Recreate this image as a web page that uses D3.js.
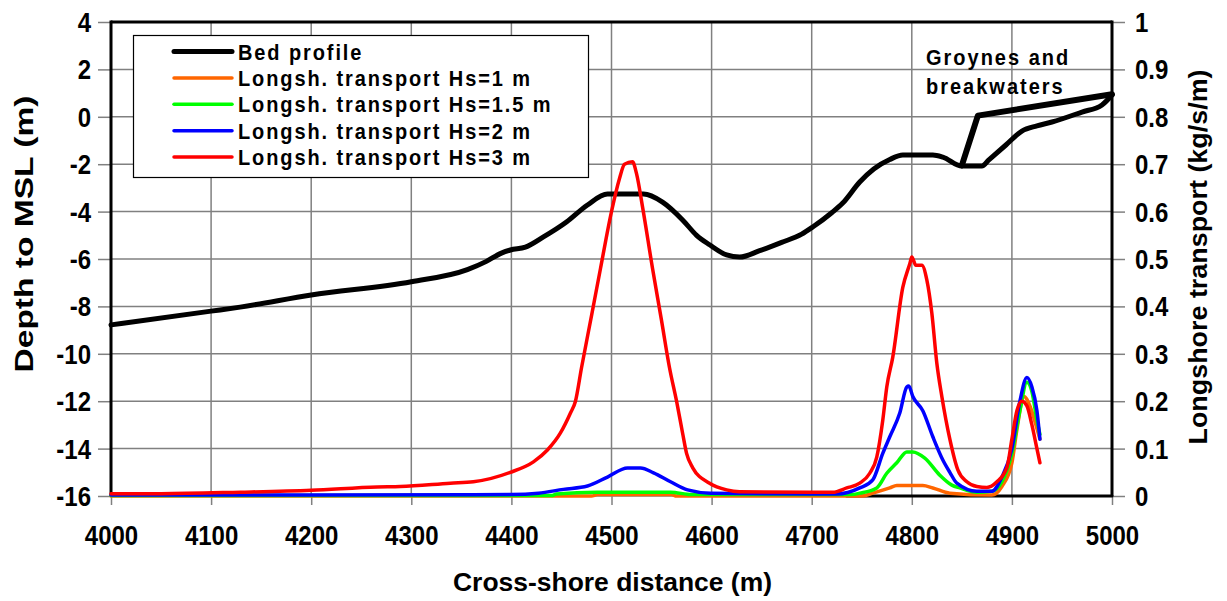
<!DOCTYPE html>
<html><head><meta charset="utf-8">
<script src="https://cdn.jsdelivr.net/npm/d3@7"></script>
<style>
html,body{margin:0;padding:0;background:#fff;}
svg{display:block;font-family:"Liberation Sans",Arial,sans-serif;font-weight:bold;}
</style></head>
<body>
<svg id="chart" width="1227" height="601"></svg>
<script>
// ---- data ----
const xTicks = [4000,4100,4200,4300,4400,4500,4600,4700,4800,4900,5000];
const yLeftTicks = [4,2,0,-2,-4,-6,-8,-10,-12,-14,-16];
const yRightTicks = [0,0.1,0.2,0.3,0.4,0.5,0.6,0.7,0.8,0.9,1];

const bedX = [4000,4100,4129,4200,4300,4356,4375,4390,4399,4414,4432,4455,4476,4496,4532,4551,4571,4585,4598,4615,4628,4648,4670,4690,4701,4720,4731,4748,4762,4778,4791,4821,4831,4850,4870,4877,4894,4910,4925,4940,4970,4990,5000];
const bedY = [-8.78,-8.2,-8.03,-7.52,-6.96,-6.45,-6.1,-5.75,-5.62,-5.5,-5.07,-4.44,-3.72,-3.26,-3.26,-3.6,-4.35,-5.0,-5.4,-5.83,-5.92,-5.65,-5.3,-4.95,-4.65,-4.05,-3.64,-2.75,-2.2,-1.8,-1.61,-1.61,-1.7,-2.08,-2.08,-1.82,-1.19,-0.6,-0.38,-0.22,0.2,0.5,0.92];

const groyneX = [4850,4866,5000];
const groyneY = [-2.05,0.05,0.95];

const hs1X = [4000,4480,4486,4560,4565,4750,4761,4778,4785,4811,4821,4838,4880,4890,4900,4905,4912,4918,4924,4928];
const hs1Y = [0,0,0.003,0.003,0,0,0.006,0.017,0.022,0.022,0.017,0.006,0.002,0.02,0.07,0.14,0.21,0.19,0.15,0.12];

const hs15X = [4000,4440,4445,4486,4559,4580,4740,4748,4765,4775,4785,4795,4801,4813,4828,4840,4848,4865,4880,4890,4900,4908,4915,4920,4925,4928];
const hs15Y = [0.001,0.001,0.004,0.008,0.008,0.003,0.003,0.006,0.017,0.048,0.07,0.093,0.093,0.08,0.044,0.023,0.017,0.008,0.01,0.03,0.09,0.18,0.24,0.22,0.16,0.13];

const hs2X = [4000,4200,4400,4427,4452,4476,4496,4516,4529,4542,4559,4576,4599,4700,4725,4748,4761,4771,4778,4788,4795,4797,4801,4811,4821,4831,4838,4845,4865,4880,4890,4900,4908,4915,4920,4925,4928];
const hs2Y = [0.002,0.002,0.003,0.006,0.014,0.021,0.04,0.059,0.059,0.049,0.03,0.013,0.006,0.004,0.004,0.017,0.034,0.09,0.125,0.175,0.23,0.232,0.21,0.18,0.125,0.076,0.05,0.027,0.01,0.01,0.04,0.1,0.2,0.25,0.23,0.18,0.12];

const hs3X = [4000,4050,4129,4200,4266,4289,4339,4362,4399,4422,4436,4449,4459,4464,4470,4480,4489,4500,4508,4513,4521,4525,4531,4541,4550,4558,4565,4571,4575,4581,4598,4615,4628,4700,4721,4735,4748,4758,4765,4771,4775,4781,4791,4798,4800,4804,4810,4815,4820,4825,4830,4838,4846,4855,4865,4875,4885,4895,4900,4905,4910,4915,4920,4925,4928];
const hs3Y = [0.005,0.005,0.008,0.012,0.019,0.02,0.027,0.03,0.05,0.072,0.097,0.133,0.175,0.2,0.27,0.38,0.48,0.6,0.67,0.7,0.705,0.68,0.61,0.48,0.37,0.27,0.2,0.133,0.09,0.06,0.027,0.013,0.009,0.008,0.008,0.017,0.027,0.048,0.082,0.16,0.23,0.293,0.44,0.49,0.504,0.487,0.487,0.456,0.386,0.28,0.21,0.12,0.055,0.03,0.02,0.018,0.03,0.06,0.12,0.18,0.2,0.19,0.15,0.1,0.07];

const zeroX = [4735,5000];
const zeroY = [0,0];

const legendLabels = ["Bed profile","Longsh. transport Hs=1 m","Longsh. transport Hs=1.5 m","Longsh. transport Hs=2 m","Longsh. transport Hs=3 m"];
const legendColors = ["#000000","#ff6600","#00ff00","#0000ff","#ff0000"];
const annotationLines = ["Groynes and","breakwaters"];

// ---- scales ----
const L = 111, R = 1112, T = 22, B = 496;
const x = d3.scaleLinear().domain([4000,5000]).range([L,R]);
const yL = d3.scaleLinear().domain([-16,4]).range([B,T]);
const yR = d3.scaleLinear().domain([0,1]).range([B,T]);

const svg = d3.select("#chart");
const grid = "#808080";
const SY = 1.15; // vertical stretch of tick labels

// gridlines
svg.append("g").selectAll("line").data(xTicks).join("line")
  .attr("x1",d=>x(d)).attr("x2",d=>x(d)).attr("y1",T).attr("y2",B)
  .attr("stroke",grid).attr("stroke-width",1.5);
svg.append("g").selectAll("line").data(yLeftTicks).join("line")
  .attr("x1",L).attr("x2",R).attr("y1",d=>yL(d)).attr("y2",d=>yL(d))
  .attr("stroke",grid).attr("stroke-width",1.5);

// axes
const axL = svg.append("g").attr("transform",`translate(${L},0)`)
  .call(d3.axisLeft(yL).tickValues(yLeftTicks).tickSize(13).tickPadding(7).tickFormat(d=>String(d)));
const axR = svg.append("g").attr("transform",`translate(${R},0)`)
  .call(d3.axisRight(yR).tickValues(yRightTicks).tickSize(13).tickPadding(10).tickFormat(d=>d===0||d===1?String(d):d3.format(".1f")(d)));
const axB = svg.append("g").attr("transform",`translate(0,${B})`)
  .call(d3.axisBottom(x).tickValues(xTicks).tickSize(9).tickPadding(17).tickFormat(d=>String(d)));
[axL,axR,axB].forEach(a=>{
  a.select(".domain").remove();
  a.selectAll(".tick line").attr("stroke",grid).attr("stroke-width",1.5);
  a.selectAll(".tick text").attr("font-size",24).attr("font-family","Liberation Sans, Arial, sans-serif")
    .attr("font-weight","bold").attr("fill","#000").attr("transform",`scale(1,${SY})`).attr("dy",null);
});
axB.selectAll(".tick text").attr("y",49/SY);
axL.selectAll(".tick text").attr("y",9.5/SY);
axR.selectAll(".tick text").attr("y",9.5/SY);

// frame
svg.append("line").attr("x1",L).attr("x2",L).attr("y1",T-1.5).attr("y2",B).attr("stroke","#000").attr("stroke-width",3);
svg.append("line").attr("x1",R).attr("x2",R).attr("y1",T-1.5).attr("y2",B).attr("stroke","#000").attr("stroke-width",3);
svg.append("line").attr("x1",L).attr("x2",R).attr("y1",T).attr("y2",T).attr("stroke","#000").attr("stroke-width",3);

// lines
const lineL = (xs,ys,c)=>d3.line().curve(c||d3.curveLinear).x((d,i)=>x(xs[i])).y((d,i)=>yL(ys[i]))(xs);
const lineR = (xs,ys,c)=>d3.line().curve(c||d3.curveLinear).x((d,i)=>x(xs[i])).y((d,i)=>yR(ys[i]))(xs);
const mono = d3.curveMonotoneX;
const plot = svg.append("g").attr("fill","none").attr("stroke-linejoin","round").attr("stroke-linecap","round");

plot.append("path").attr("d",lineR(zeroX,zeroY)).attr("stroke","#000").attr("stroke-width",3);
plot.append("path").attr("d",lineL(bedX,bedY,mono)).attr("stroke","#000").attr("stroke-width",5);
plot.append("path").attr("d",lineL(groyneX,groyneY)).attr("stroke","#000").attr("stroke-width",6);
plot.append("path").attr("d",lineR(hs1X,hs1Y,mono)).attr("stroke",legendColors[1]).attr("stroke-width",3.5);
plot.append("path").attr("d",lineR(hs15X,hs15Y,mono)).attr("stroke",legendColors[2]).attr("stroke-width",3.5);
plot.append("path").attr("d",lineR(hs2X,hs2Y,mono)).attr("stroke",legendColors[3]).attr("stroke-width",3.5);
plot.append("path").attr("d",lineR(hs3X,hs3Y,mono)).attr("stroke",legendColors[4]).attr("stroke-width",3.5);

// legend
const lg = svg.append("g");
lg.append("rect").attr("x",133.5).attr("y",35.5).attr("width",455).attr("height",142)
  .attr("fill","#fff").attr("stroke","#000").attr("stroke-width",1.2);
legendLabels.forEach((lab,i)=>{
  const yy = 51.5 + i*26.4;
  lg.append("line").attr("x1",174).attr("x2",232).attr("y1",yy).attr("y2",yy)
    .attr("stroke",legendColors[i]).attr("stroke-width",i===0?5:3.5).attr("stroke-linecap","round");
  lg.append("text").attr("transform",`translate(238,${yy+8}) scale(1,1.1)`).attr("font-size",20).attr("letter-spacing",1.9)
    .attr("fill","#000").text(lab);
});

// annotation
annotationLines.forEach((t,i)=>{
  svg.append("text").attr("transform",`translate(926,${65+i*29}) scale(1,1.1)`).attr("font-size",20).attr("letter-spacing",2)
    .attr("fill","#000").text(t);
});

// axis titles
svg.append("text").attr("x",(L+R)/2 + 1).attr("y",591).attr("text-anchor","middle")
  .attr("font-size",26).attr("textLength",319).attr("lengthAdjust","spacingAndGlyphs").text("Cross-shore distance (m)");
svg.append("text").attr("transform","translate(33,234) rotate(-90)").attr("text-anchor","middle")
  .attr("font-size",25).attr("textLength",277).attr("lengthAdjust","spacingAndGlyphs").text("Depth to MSL (m)");
svg.append("text").attr("transform","translate(1207,257) rotate(-90)").attr("text-anchor","middle")
  .attr("font-size",25).attr("textLength",375).attr("lengthAdjust","spacingAndGlyphs").text("Longshore transport (kg/s/m)");
</script>
</body></html>
